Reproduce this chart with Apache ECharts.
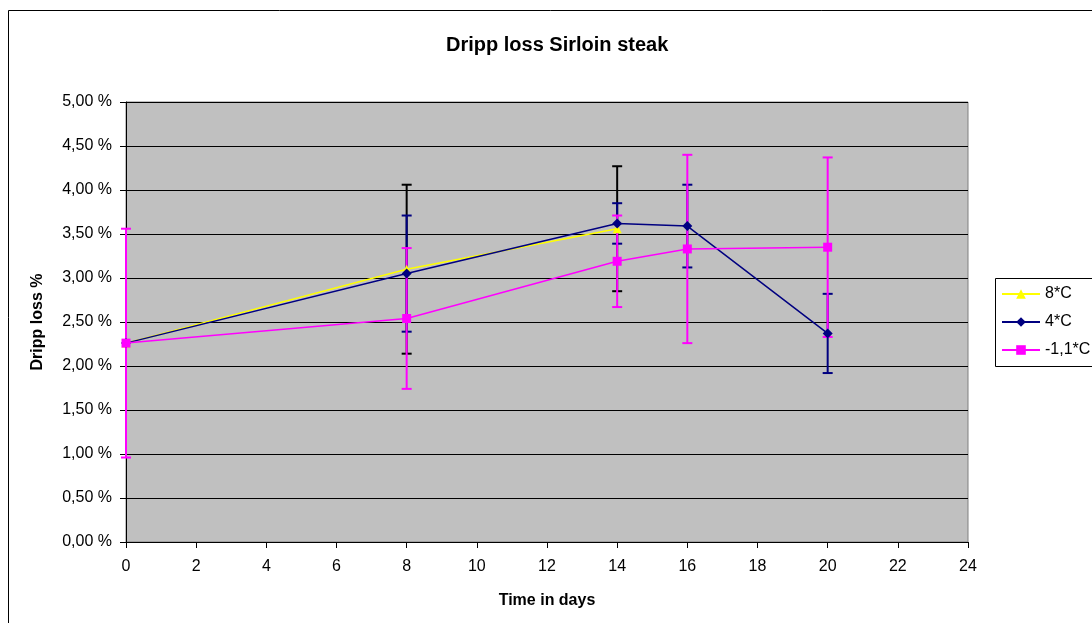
<!DOCTYPE html>
<html>
<head>
<meta charset="utf-8">
<title>Dripp loss Sirloin steak</title>
<script src="https://cdn.jsdelivr.net/npm/echarts@6/dist/echarts.min.js"></script>
<style>
  html, body { margin: 0; padding: 0; background: #fff; }
  #chart { width: 1092px; height: 623px; }
</style>
</head>
<body>
<div id="chart"></div>
<script>
// Data (days, drip loss in %, +/- error)
const days8 = [0, 8, 14];
const temp8 = [2.26, 3.10, 3.56];
const temp8Err = [0, 0.96, 0.71];

const days4 = [0, 8, 14, 16, 20];
const temp4 = [2.26, 3.05, 3.62, 3.59, 2.37];
const temp4Err = [0, 0.66, 0.23, 0.47, 0.45];

const daysM = [0, 8, 14, 16, 20];
const tempM = [2.26, 2.54, 3.19, 3.33, 3.35];
const tempMErr = [1.30, 0.80, 0.52, 1.07, 1.02];

const seriesNames = ['8*C', '4*C', '-1,1*C'];
const yTickLabels = ['0,00 %', '0,50 %', '1,00 %', '1,50 %', '2,00 %', '2,50 %',
  '3,00 %', '3,50 %', '4,00 %', '4,50 %', '5,00 %'];

const font = "'Liberation Sans', Arial, sans-serif";

function toPoints(xs, ys) {
  return xs.map((x, i) => [x, ys[i]]);
}

function toBars(xs, ys, errs) {
  return xs.map((x, i) => [x, ys[i] - errs[i], ys[i] + errs[i]]);
}

// error bar: vertical line with small caps
function errorBarRender(color) {
  return function (params, api) {
    const x = api.value(0);
    const lo = api.value(1);
    const hi = api.value(2);
    if (hi - lo <= 0) return null;
    const top = api.coord([x, hi]);
    const bot = api.coord([x, lo]);
    const half = 5;
    const style = { stroke: color, lineWidth: 2 };
    return {
      type: 'group',
      children: [
        { type: 'line', shape: { x1: top[0], y1: top[1], x2: bot[0], y2: bot[1] }, style: style },
        { type: 'line', shape: { x1: top[0] - half, y1: top[1], x2: top[0] + half, y2: top[1] }, style: style },
        { type: 'line', shape: { x1: bot[0] - half, y1: bot[1], x2: bot[0] + half, y2: bot[1] }, style: style }
      ]
    };
  };
}

const chart = echarts.init(document.getElementById('chart'));

const option = {
  backgroundColor: '#fff',
  animation: false,
  textStyle: { fontFamily: font },
  graphic: [
    {
      // outer chart frame, cut off at right and bottom
      type: 'rect',
      z: -10,
      silent: true,
      shape: { x: 8.5, y: 10.5, width: 1200, height: 700 },
      style: { fill: 'none', stroke: '#000', lineWidth: 1 }
    },
    {
      // legend frame, runs past the right edge
      type: 'rect',
      z: -5,
      silent: true,
      shape: { x: 995.5, y: 278.5, width: 200, height: 88 },
      style: { fill: '#fff', stroke: '#000', lineWidth: 1 }
    }
  ],
  title: {
    text: 'Dripp loss Sirloin steak',
    left: 441,
    top: 30,
    textStyle: { fontFamily: font, fontSize: 20, fontWeight: 'bold', color: '#000' }
  },
  legend: {
    orient: 'vertical',
    left: 995,
    top: 278,
    padding: [8, 6, 8, 6],
    itemWidth: 38,
    itemHeight: 12,
    itemGap: 12,
    borderWidth: 0,
    textStyle: { fontFamily: font, fontSize: 16, color: '#000' },
    data: seriesNames
  },
  grid: {
    left: 126,
    right: 124,
    top: 102,
    bottom: 81,
    show: true,
    backgroundColor: '#c0c0c0',
    borderColor: '#808080',
    borderWidth: 1
  },
  xAxis: {
    type: 'value',
    min: 0,
    max: 24,
    interval: 2,
    name: 'Time in days',
    nameLocation: 'middle',
    nameGap: 51,
    nameTextStyle: { fontFamily: font, fontSize: 16, fontWeight: 'bold', color: '#000' },
    axisLine: { show: true, lineStyle: { color: '#000', width: 1 } },
    axisTick: { show: true, inside: false, length: 6, lineStyle: { color: '#000' } },
    axisLabel: { fontFamily: font, fontSize: 16, color: '#000', margin: 17 },
    splitLine: { show: false }
  },
  yAxis: {
    type: 'value',
    min: 0,
    max: 5,
    interval: 0.5,
    name: 'Dripp loss %',
    nameLocation: 'middle',
    nameGap: 80,
    nameTextStyle: { fontFamily: font, fontSize: 16, fontWeight: 'bold', color: '#000' },
    axisLine: { show: true, lineStyle: { color: '#000', width: 1 } },
    axisTick: { show: true, inside: false, length: 6, lineStyle: { color: '#000' } },
    axisLabel: {
      fontFamily: font,
      fontSize: 16,
      color: '#000',
      margin: 14,
      formatter: function (v) { return yTickLabels[Math.round(v * 2)]; }
    },
    splitLine: { show: true, lineStyle: { color: '#000', width: 1 } }
  },
  series: [
    {
      name: 'err8',
      type: 'custom',
      renderItem: errorBarRender('#000000'),
      encode: { x: 0, y: [1, 2] },
      data: toBars(days8, temp8, temp8Err),
      z: 1
    },
    {
      name: 'err4',
      type: 'custom',
      renderItem: errorBarRender('#000080'),
      encode: { x: 0, y: [1, 2] },
      data: toBars(days4, temp4, temp4Err),
      z: 1
    },
    {
      name: 'errM',
      type: 'custom',
      renderItem: errorBarRender('#ff00ff'),
      encode: { x: 0, y: [1, 2] },
      data: toBars(daysM, tempM, tempMErr),
      z: 1
    },
    {
      name: seriesNames[0],
      type: 'line',
      data: toPoints(days8, temp8),
      symbol: 'triangle',
      symbolSize: 9,
      lineStyle: { color: '#ffff00', width: 1.5 },
      itemStyle: { color: '#ffff00' },
      z: 3
    },
    {
      name: seriesNames[1],
      type: 'line',
      data: toPoints(days4, temp4),
      symbol: 'diamond',
      symbolSize: 10,
      lineStyle: { color: '#000080', width: 1.5 },
      itemStyle: { color: '#000080' },
      z: 4
    },
    {
      name: seriesNames[2],
      type: 'line',
      data: toPoints(daysM, tempM),
      symbol: 'rect',
      symbolSize: 9,
      lineStyle: { color: '#ff00ff', width: 1.5 },
      itemStyle: { color: '#ff00ff' },
      z: 5
    }
  ]
};

chart.setOption(option);
</script>
</body>
</html>
